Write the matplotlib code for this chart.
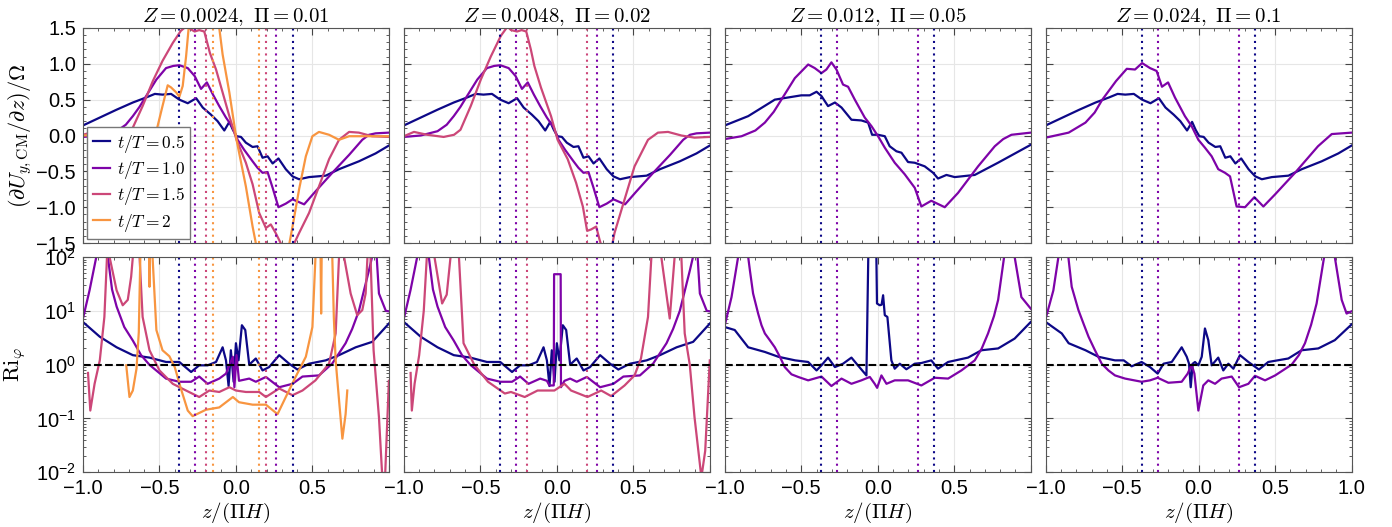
import numpy as np
import matplotlib
matplotlib.use("Agg")
import matplotlib.pyplot as plt
from matplotlib.ticker import MultipleLocator, LogLocator, NullFormatter

plt.rcParams['font.family'] = ['Liberation Sans', 'DejaVu Sans']
plt.rcParams['mathtext.fontset'] = 'cm'
plt.rcParams['font.size'] = 14.5

## data: (z/(Pi H), value) pairs
TIMES = ["0.5", "1.0", "1.5", "2"]
COLORES = ['#0d0887', '#7e03a8', '#cc4778', '#f89540']
Z_CRIT = [0.37, 0.265, 0.195, 0.15]
TITULOS = [r"$Z=0.0024,\ \Pi=0.01$", r"$Z=0.0048,\ \Pi=0.02$",
           r"$Z=0.012,\ \Pi=0.05$", r"$Z=0.024,\ \Pi=0.1$"]
X_TICKS = [-1.0, -0.5, 0.0, 0.5, 1.0]
X_LABELS = ["\u22121.0", "\u22120.5", "0.0", "0.5", "1.0"]

# shear profiles (top row)
du_a_t05 = [(-1.0, 0.14), (-0.89, 0.25), (-0.78, 0.36), (-0.674, 0.46), (-0.587, 0.53), (-0.53, 0.58),
            (-0.48, 0.57), (-0.424, 0.58), (-0.37, 0.5), (-0.315, 0.45), (-0.26, 0.52), (-0.217, 0.39),
            (-0.163, 0.29), (-0.12, 0.2), (-0.076, 0.07), (-0.043, 0.19), (-0.02, 0.08), (0.004, -0.01),
            (0.033, -0.02), (0.065, -0.1), (0.109, -0.16), (0.141, -0.15), (0.174, -0.31), (0.207, -0.29),
            (0.24, -0.39), (0.278, -0.32), (0.326, -0.47), (0.37, -0.57), (0.413, -0.61), (0.478, -0.58),
            (0.587, -0.56), (0.674, -0.47), (0.804, -0.36), (0.913, -0.25), (1.0, -0.14)]
du_a_t10 = [(-1.0, -0.02), (-0.89, 0.0), (-0.78, 0.06), (-0.72, 0.15), (-0.674, 0.27), (-0.63, 0.4),
            (-0.587, 0.55), (-0.52, 0.78), (-0.457, 0.94), (-0.41, 0.97), (-0.37, 0.98), (-0.315, 0.94),
            (-0.27, 0.83), (-0.228, 0.65), (-0.19, 0.74), (-0.15, 0.57), (-0.109, 0.41), (-0.065, 0.25),
            (-0.02, 0.11), (0.011, -0.06), (0.054, -0.2), (0.109, -0.36), (0.141, -0.45), (0.174, -0.52),
            (0.207, -0.51), (0.24, -0.73), (0.278, -1.0), (0.326, -0.95), (0.37, -0.89), (0.446, -0.96),
            (0.52, -0.78), (0.63, -0.52), (0.74, -0.27), (0.826, -0.06), (0.87, 0.01), (0.913, 0.03),
            (1.0, 0.04)]
du_1_t15 = [(-1.0, 0.01), (-0.935, 0.05), (-0.826, 0.01), (-0.74, 0.0), (-0.674, 0.11), (-0.61, 0.41),
            (-0.543, 0.76), (-0.48, 1.04), (-0.413, 1.29), (-0.36, 1.46), (-0.326, 1.52), (-0.27, 1.45),
            (-0.24, 1.47), (-0.207, 1.45), (-0.17, 1.15), (-0.13, 0.92), (-0.087, 0.6), (-0.043, 0.27),
            (0.004, -0.06), (0.065, -0.38), (0.109, -0.68), (0.152, -1.08), (0.196, -1.29), (0.228, -1.24),
            (0.26, -1.36), (0.304, -1.55), (0.36, -1.6), (0.413, -1.36), (0.478, -1.08), (0.543, -0.71),
            (0.609, -0.33), (0.674, -0.06), (0.74, 0.05), (0.804, 0.04), (0.89, -0.01), (1.0, -0.02)]
du_1_t20 = [(-1.0, 0.0), (-0.826, 0.01), (-0.717, 0.04), (-0.63, 0.05), (-0.565, -0.03), (-0.52, 0.06),
            (-0.48, 0.41), (-0.446, 0.7), (-0.424, 0.67), (-0.39, 0.6), (-0.37, 0.54), (-0.348, 0.69),
            (-0.326, 1.1), (-0.309, 1.5), (-0.29, 1.7), (-0.2, 1.8), (-0.12, 1.7), (-0.109, 1.5),
            (-0.087, 1.13), (-0.043, 0.6), (0.004, -0.06), (0.065, -0.71), (0.109, -1.27), (0.13, -1.5),
            (0.16, -1.7), (0.3, -1.75), (0.35, -1.5), (0.37, -1.27), (0.413, -0.75), (0.457, -0.29),
            (0.5, -0.01), (0.543, 0.05), (0.609, 0.01), (0.674, -0.06), (0.74, -0.01), (0.848, -0.01),
            (1.0, -0.01)]
du_2_t15 = [(-1.0, -0.01), (-0.934, 0.05), (-0.847, 0.01), (-0.74, -0.02), (-0.672, 0.01), (-0.63, 0.08),
            (-0.563, 0.41), (-0.497, 0.78), (-0.432, 1.1), (-0.366, 1.39), (-0.322, 1.52), (-0.3, 1.47),
            (-0.26, 1.45), (-0.23, 1.47), (-0.2, 1.45), (-0.17, 1.2), (-0.147, 0.97), (-0.104, 0.67),
            (-0.038, 0.27), (0.005, -0.06), (0.071, -0.33), (0.126, -0.66), (0.17, -0.99), (0.198, -1.33),
            (0.224, -1.31), (0.257, -1.27), (0.279, -1.45), (0.3, -1.6), (0.355, -1.6), (0.377, -1.36),
            (0.443, -0.89), (0.508, -0.43), (0.596, -0.06), (0.661, 0.04), (0.727, 0.05), (0.814, 0.0),
            (0.9, -0.03), (1.0, -0.02)]
du_3_t05 = [(-1.0, 0.14), (-0.847, 0.27), (-0.673, 0.5), (-0.5, 0.56), (-0.445, 0.56), (-0.4, 0.61),
            (-0.368, 0.55), (-0.325, 0.41), (-0.28, 0.46), (-0.237, 0.39), (-0.172, 0.22), (-0.107, 0.21),
            (-0.063, 0.18), (-0.037, 0.01), (0.002, 0.01), (0.046, -0.01), (0.078, -0.15), (0.122, -0.22),
            (0.155, -0.24), (0.198, -0.37), (0.242, -0.38), (0.307, -0.43), (0.362, -0.52), (0.394, -0.6),
            (0.449, -0.55), (0.503, -0.58), (0.634, -0.55), (0.786, -0.38), (1.0, -0.13)]
du_3_t10 = [(-1.0, -0.05), (-0.89, -0.01), (-0.8, 0.07), (-0.738, 0.18), (-0.68, 0.33), (-0.63, 0.5),
            (-0.542, 0.8), (-0.455, 0.99), (-0.412, 0.94), (-0.368, 0.87), (-0.336, 0.92), (-0.303, 1.02),
            (-0.27, 0.92), (-0.227, 0.71), (-0.194, 0.68), (-0.15, 0.5), (-0.085, 0.25), (-0.041, 0.13),
            (0.002, -0.01), (0.046, -0.17), (0.111, -0.38), (0.176, -0.54), (0.242, -0.73), (0.285, -0.99),
            (0.35, -0.91), (0.438, -1.0), (0.525, -0.8), (0.656, -0.43), (0.765, -0.15), (0.82, -0.05),
            (0.874, 0.01), (1.0, 0.04)]
du_4_t10 = [(-1.0, -0.03), (-0.85, 0.04), (-0.74, 0.18), (-0.68, 0.32), (-0.63, 0.5), (-0.54, 0.76),
            (-0.47, 0.93), (-0.416, 0.92), (-0.37, 1.01), (-0.318, 0.94), (-0.275, 0.9), (-0.24, 0.68),
            (-0.2, 0.74), (-0.155, 0.53), (-0.09, 0.27), (-0.046, 0.13), (-0.002, -0.06), (0.041, -0.17),
            (0.085, -0.29), (0.128, -0.47), (0.172, -0.52), (0.205, -0.57), (0.248, -0.99), (0.303, -1.0),
            (0.364, -0.86), (0.423, -0.99), (0.5, -0.82), (0.63, -0.52), (0.78, -0.15), (0.87, 0.02),
            (1.0, 0.04)]

# Richardson number profiles (bottom row)
ri_a_t05 = [(-1.0, 6.2), (-0.89, 3.3), (-0.78, 2.1), (-0.674, 1.5), (-0.565, 1.35), (-0.457, 1.12),
            (-0.37, 1.12), (-0.293, 0.73), (-0.24, 0.97), (-0.185, 0.97), (-0.13, 1.12), (-0.087, 2.1),
            (-0.065, 1.2), (-0.048, 0.4), (-0.033, 1.85), (-0.015, 0.48), (0.0, 2.5), (0.017, 1.2),
            (0.039, 5.4), (0.061, 4.4), (0.087, 1.0), (0.13, 1.3), (0.174, 0.78), (0.217, 0.9),
            (0.283, 1.5), (0.348, 1.04), (0.402, 0.81), (0.478, 1.04), (0.587, 1.2), (0.674, 1.5),
            (0.783, 2.1), (0.891, 2.65), (1.0, 5.8)]
ri_1_t10 = [(-1.0, 7.2), (-0.957, 24), (-0.913, 100), (-0.89, 300), (-0.86, 300), (-0.837, 100),
            (-0.81, 25), (-0.78, 12), (-0.73, 5.0), (-0.674, 2.8), (-0.62, 1.5), (-0.565, 0.99),
            (-0.457, 0.55), (-0.37, 0.48), (-0.293, 0.48), (-0.24, 0.6), (-0.185, 0.44), (-0.109, 0.55),
            (-0.065, 0.68), (-0.02, 1.4), (-0.01, 0.38), (0.004, 1.5), (0.02, 0.5), (0.087, 0.55),
            (0.13, 0.48), (0.196, 0.59), (0.283, 0.38), (0.37, 0.44), (0.435, 0.6), (0.543, 0.63),
            (0.63, 1.05), (0.717, 2.5), (0.76, 4.6), (0.804, 10), (0.87, 57), (0.89, 100), (0.9, 300),
            (0.91, 300), (0.935, 21), (0.98, 10), (1.0, 9.8)]
ri_1_t15 = [(-0.967, 0.7), (-0.952, 0.14), (-0.924, 0.44), (-0.89, 1.2), (-0.86, 7.7), (-0.843, 100),
            (-0.835, 300), (-0.826, 100), (-0.78, 24), (-0.74, 12.7), (-0.707, 16), (-0.685, 43),
            (-0.674, 100), (-0.66, 300), (-0.64, 300), (-0.63, 100), (-0.61, 7.7), (-0.565, 1.85),
            (-0.5, 0.78), (-0.413, 0.44), (-0.326, 0.33), (-0.24, 0.25), (-0.174, 0.33), (-0.109, 0.31),
            (-0.043, 0.38), (0.0, 0.33), (0.065, 0.31), (0.152, 0.31), (0.196, 0.25), (0.283, 0.36),
            (0.37, 0.27), (0.435, 0.33), (0.52, 0.51), (0.609, 1.05), (0.652, 3.8), (0.674, 100),
            (0.69, 300), (0.707, 100), (0.75, 21), (0.793, 8.3), (0.826, 10.3), (0.848, 21), (0.86, 100),
            (0.87, 300), (0.88, 100), (0.9, 1.85), (0.935, 0.106), (0.957, 0.008), (0.975, 0.008),
            (1.0, 0.5)]
ri_1_t20 = [(-0.717, 0.97), (-0.696, 0.25), (-0.674, 0.33), (-0.65, 0.84), (-0.635, 4.0), (-0.625, 100),
            (-0.62, 300), (-0.57, 300), (-0.565, 28), (-0.56, 300), (-0.55, 300), (-0.545, 100),
            (-0.52, 4.4), (-0.48, 1.85), (-0.435, 1.43), (-0.4, 0.9), (-0.36, 0.36), (-0.315, 0.14),
            (-0.283, 0.11), (-0.196, 0.145), (-0.109, 0.16), (-0.02, 0.25), (0.02, 0.2), (0.109, 0.18),
            (0.196, 0.18), (0.272, 0.12), (0.326, 0.25), (0.39, 0.59), (0.457, 1.4), (0.5, 5.0),
            (0.52, 100), (0.53, 300), (0.552, 300), (0.557, 8.9), (0.562, 300), (0.62, 300), (0.63, 100),
            (0.64, 7.7), (0.652, 1.2), (0.674, 0.22), (0.696, 0.042), (0.717, 0.12), (0.728, 0.33)]
ri_2_t10 = [(-1.0, 7.2), (-0.957, 24), (-0.913, 100), (-0.89, 300), (-0.86, 300), (-0.837, 100),
            (-0.81, 25), (-0.78, 12), (-0.73, 5.0), (-0.674, 2.8), (-0.62, 1.5), (-0.565, 0.99),
            (-0.457, 0.55), (-0.37, 0.48), (-0.293, 0.48), (-0.24, 0.6), (-0.185, 0.44), (-0.109, 0.55),
            (-0.065, 0.5), (-0.049, 0.41), (-0.02, 0.41), (-0.018, 48), (0.025, 48), (0.027, 0.38),
            (0.05, 0.5), (0.087, 0.55), (0.13, 0.48), (0.196, 0.59), (0.283, 0.38), (0.37, 0.44),
            (0.435, 0.6), (0.543, 0.63), (0.63, 1.05), (0.717, 2.5), (0.76, 4.6), (0.804, 10), (0.87, 57),
            (0.89, 100), (0.9, 300), (0.91, 300), (0.935, 21), (0.98, 10), (1.0, 9.8)]
ri_2_t15 = [(-0.956, 0.7), (-0.948, 0.14), (-0.93, 0.44), (-0.9, 1.5), (-0.87, 10), (-0.85, 100),
            (-0.84, 300), (-0.81, 300), (-0.8, 100), (-0.75, 13.7), (-0.72, 20), (-0.695, 100),
            (-0.685, 300), (-0.65, 300), (-0.64, 100), (-0.61, 2.5), (-0.54, 1.0), (-0.45, 0.48),
            (-0.34, 0.29), (-0.3, 0.31), (-0.21, 0.25), (-0.126, 0.33), (-0.016, 0.33), (0.05, 0.44),
            (0.093, 0.33), (0.2, 0.25), (0.29, 0.33), (0.355, 0.26), (0.443, 0.41), (0.508, 0.63),
            (0.55, 1.3), (0.596, 7.7), (0.618, 100), (0.63, 300), (0.67, 300), (0.683, 100),
            (0.738, 7.2), (0.77, 100), (0.78, 300), (0.805, 300), (0.814, 100), (0.836, 3.8),
            (0.869, 1.0), (0.9, 0.106), (0.945, 0.008), (0.97, 0.025), (1.0, 1.2)]
ri_3_t05 = [(-1.0, 5.0), (-0.935, 4.4), (-0.847, 2.1), (-0.738, 1.72), (-0.65, 1.4), (-0.54, 1.2),
            (-0.455, 1.12), (-0.4, 0.78), (-0.368, 0.97), (-0.325, 1.35), (-0.28, 0.9), (-0.227, 1.04),
            (-0.172, 1.35), (-0.13, 0.97), (-0.074, 0.63), (-0.062, 100), (-0.058, 300), (-0.012, 300),
            (-0.009, 100), (-0.005, 13.7), (0.013, 12.7), (0.025, 13), (0.035, 19.5), (0.046, 8.3),
            (0.063, 7.7), (0.089, 1.2), (0.111, 0.84), (0.144, 1.04), (0.187, 0.82), (0.242, 1.04),
            (0.285, 1.07), (0.35, 1.2), (0.394, 0.84), (0.46, 1.12), (0.59, 1.35), (0.678, 1.85),
            (0.787, 2.0), (0.895, 3.05), (1.0, 6.2)]
ri_3_t10 = [(-1.0, 5.4), (-0.956, 18), (-0.913, 100), (-0.9, 300), (-0.86, 300), (-0.847, 100),
            (-0.836, 57), (-0.815, 21), (-0.782, 8.9), (-0.76, 5.4), (-0.738, 3.8), (-0.706, 2.85),
            (-0.673, 2.1), (-0.64, 1.4), (-0.608, 0.9), (-0.564, 0.66), (-0.52, 0.59), (-0.455, 0.51),
            (-0.368, 0.6), (-0.303, 0.4), (-0.237, 0.55), (-0.172, 0.44), (-0.107, 0.51), (-0.052, 0.59),
            (-0.02, 0.44), (-0.004, 0.37), (0.024, 0.63), (0.057, 0.44), (0.111, 0.51), (0.198, 0.51),
            (0.285, 0.41), (0.373, 0.57), (0.46, 0.55), (0.547, 0.78), (0.634, 1.2), (0.68, 2.0),
            (0.721, 3.8), (0.76, 8.0), (0.787, 16), (0.826, 100), (0.84, 300), (0.88, 300), (0.895, 100),
            (0.939, 18), (1.0, 11)]
ri_4_t05 = [(-1.0, 6.2), (-0.895, 3.8), (-0.85, 2.5), (-0.74, 1.85), (-0.656, 1.4), (-0.547, 1.2),
            (-0.49, 1.2), (-0.438, 0.93), (-0.373, 1.12), (-0.318, 0.9), (-0.268, 0.68), (-0.23, 1.04),
            (-0.176, 1.12), (-0.111, 2.1), (-0.078, 1.4), (-0.063, 1.04), (-0.052, 0.38), (-0.039, 1.04),
            (-0.024, 1.12), (-0.002, 0.97), (0.02, 1.4), (0.041, 4.7), (0.063, 2.85), (0.085, 0.97),
            (0.128, 1.35), (0.161, 0.78), (0.194, 1.04), (0.227, 0.84), (0.27, 1.5), (0.325, 1.12),
            (0.394, 0.81), (0.455, 1.12), (0.586, 1.3), (0.673, 1.85), (0.782, 2.0), (0.89, 2.85),
            (1.0, 5.6)]
ri_4_t10 = [(-1.0, 7.2), (-0.95, 24), (-0.917, 100), (-0.9, 300), (-0.865, 300), (-0.852, 100),
            (-0.83, 28), (-0.786, 10.3), (-0.75, 5.5), (-0.72, 3.3), (-0.68, 1.9), (-0.634, 1.04),
            (-0.59, 0.78), (-0.547, 0.63), (-0.481, 0.55), (-0.373, 0.48), (-0.318, 0.51), (-0.268, 0.57),
            (-0.198, 0.46), (-0.111, 0.48), (-0.072, 0.68), (-0.046, 1.0), (-0.028, 0.68), (-0.002, 0.14),
            (0.03, 0.41), (0.063, 0.51), (0.107, 0.44), (0.15, 0.55), (0.216, 0.6), (0.264, 0.38),
            (0.325, 0.44), (0.368, 0.62), (0.434, 0.51), (0.5, 0.63), (0.608, 1.0), (0.655, 1.5),
            (0.695, 2.5), (0.735, 5.5), (0.771, 13.7), (0.82, 100), (0.83, 300), (0.88, 300), (0.89, 100),
            (0.935, 16), (0.967, 8.9), (1.0, 9.8)]

CURVAS_ARRIBA = [[du_a_t05, du_a_t10, du_1_t15, du_1_t20],
                 [du_a_t05, du_a_t10, du_2_t15],
                 [du_3_t05, du_3_t10],
                 [du_a_t05, du_4_t10]]
CURVAS_ABAJO = [[ri_a_t05, ri_1_t10, ri_1_t15, ri_1_t20],
                [ri_a_t05, ri_2_t10, ri_2_t15],
                [ri_3_t05, ri_3_t10],
                [ri_4_t05, ri_4_t10]]

## Estilo ploteo
fig, axs = plt.subplots(2, 4, figsize=(13.92, 5.27), dpi=100)
fig.subplots_adjust(left=0.0596, right=0.971, top=0.947, bottom=0.104, wspace=0.049, hspace=0.065)

for col in range(4):
    ax_u, ax_r = axs[0, col], axs[1, col]
    for k, curva in enumerate(CURVAS_ARRIBA[col]):
        z, v = np.array(curva).T
        ax_u.plot(z, v, color=COLORES[k], lw=1.6, label=f"$t/T={TIMES[k]}$")
    for k, curva in enumerate(CURVAS_ABAJO[col]):
        z, v = np.array(curva).T
        ax_r.plot(z, v, color=COLORES[k], lw=1.6)
    for ax in (ax_u, ax_r):
        for k in range(len(CURVAS_ARRIBA[col])):
            for s in (-1, 1):
                ax.axvline(s*Z_CRIT[k], color=COLORES[k], ls=(0, (1, 2)), lw=1.5)
        ax.set_xlim(-1, 1)
        ax.xaxis.set_minor_locator(MultipleLocator(0.1))
        ax.tick_params(which='both', direction='in', top=True, right=True, color='#444444')
        ax.tick_params(which='major', length=5, pad=5)
        ax.tick_params(which='minor', length=2.5)
        ax.grid(True, which='major', color='#e6e6e6', lw=0.8)
        ax.set_axisbelow(True)
        for sp in ax.spines.values():
            sp.set_color('#555555')
    # the right-most "1.0" is only labelled on the last column
    etiquetas = X_LABELS if col == 3 else X_LABELS[:-1] + [""]
    ax_u.set_xticks(X_TICKS, [""] * len(X_TICKS))
    ax_r.set_xticks(X_TICKS, etiquetas)
    ax_r.axhline(1.0, color='k', ls='--', lw=1.5)

    ax_u.set_ylim(-1.5, 1.5)
    ax_u.set_yticks(np.arange(-1.5, 1.51, 0.5))
    ax_u.yaxis.set_minor_locator(MultipleLocator(0.1))
    ax_r.set_yscale('log')
    ax_r.set_ylim(1e-2, 1e2)
    ax_r.set_yticks([1e-2, 1e-1, 1e0, 1e1, 1e2],
                    [r'$\mathregular{10^{-2}}$', r'$\mathregular{10^{-1}}$', r'$\mathregular{10^{0}}$',
                     r'$\mathregular{10^{1}}$', r'$\mathregular{10^{2}}$'])
    ax_r.yaxis.set_minor_locator(LogLocator(subs=np.arange(2, 10)))
    ax_r.yaxis.set_minor_formatter(NullFormatter())
    ax_u.set_title(TITULOS[col], fontsize=15, pad=4)
    ax_r.set_xlabel(r"$z/(\Pi H)$", fontsize=15, labelpad=2)
    if col > 0:
        ax_u.tick_params(labelleft=False)
        ax_r.tick_params(labelleft=False)

axs[0, 0].set_ylabel(r"$(\partial U_{y,\mathrm{CM}}/\partial z)/\Omega$", fontsize=16, labelpad=2)
axs[1, 0].set_ylabel(r"$\mathrm{Ri}_\varphi$", fontsize=16, labelpad=6)
leg = axs[0, 0].legend(loc='lower left', fontsize=12.5, frameon=True, fancybox=False,
                       edgecolor='#777777', framealpha=1, handlelength=1.0, handletextpad=0.4,
                       labelspacing=0.25, borderpad=0.3, borderaxespad=0.25)

plt.savefig("out.png", dpi=100)
